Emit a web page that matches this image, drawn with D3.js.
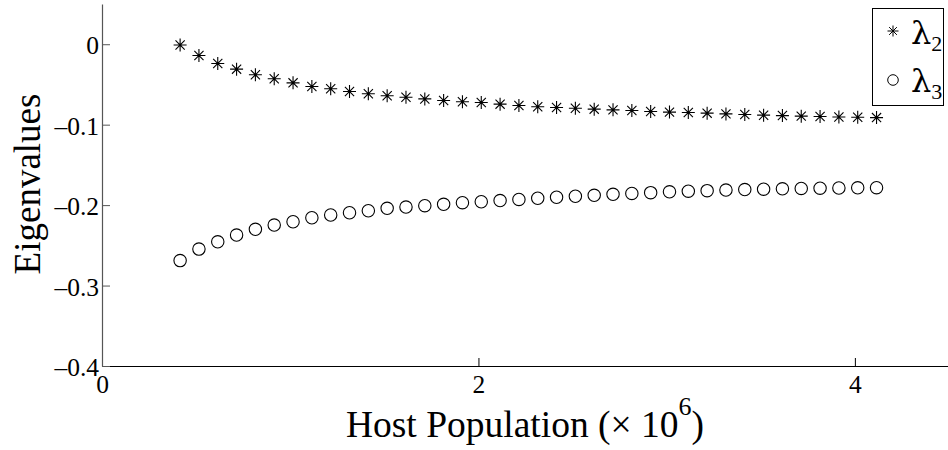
<!DOCTYPE html>
<html>
<head>
<meta charset="utf-8">
<script src="https://cdn.jsdelivr.net/npm/d3@7"></script>
<style>
  body { margin: 0; background: #fff; }
</style>
</head>
<body>
<svg width="948" height="450"></svg>
<script>
(function() {
    // host population (x 10^6)
    var population = [0.415, 0.515, 0.615, 0.715, 0.815, 0.915, 1.015, 1.115, 1.215, 1.315,
        1.415, 1.515, 1.615, 1.715, 1.815, 1.915, 2.015, 2.115, 2.215, 2.315,
        2.415, 2.515, 2.615, 2.715, 2.815, 2.915, 3.015, 3.115, 3.215, 3.315,
        3.415, 3.515, 3.615, 3.715, 3.815, 3.915, 4.015, 4.115];
    // eigenvalues
    var lambda2 = [-0.001, -0.014, -0.024, -0.031, -0.038, -0.043, -0.048, -0.0526, -0.0554, -0.0588,
        -0.0616, -0.064, -0.066, -0.068, -0.070, -0.0716, -0.0725, -0.0745, -0.0762, -0.0778,
        -0.0787, -0.0795, -0.0807, -0.0816, -0.0824, -0.0837, -0.0844, -0.0849, -0.0857, -0.0866,
        -0.0874, -0.0882, -0.0887, -0.0894, -0.0899, -0.0904, -0.0908, -0.0912];
    var lambda3 = [-0.2690, -0.2547, -0.2456, -0.2372, -0.2301, -0.2248, -0.2207, -0.2157, -0.2123, -0.2095,
        -0.2070, -0.2040, -0.2024, -0.2007, -0.1990, -0.1970, -0.1958, -0.1943, -0.1929, -0.1915,
        -0.1902, -0.1890, -0.1878, -0.1866, -0.1855, -0.1845, -0.1835, -0.1827, -0.1820, -0.1813,
        -0.1807, -0.1802, -0.1797, -0.1793, -0.1790, -0.1787, -0.1785, -0.1783];
    var xTicks = [0, 2, 4];
    var yTicks = [-0.4, -0.3, -0.2, -0.1, 0];
    var legendNames = ['2', '3'];

    var serif = '"Liberation Serif", "Times New Roman", "DejaVu Serif", serif';
    var svg = d3.select('svg');
    var left = 102, right = 949, top = 4, bottom = 366;

    var x = d3.scaleLinear().domain([0, 4.5]).range([left, right]);
    var y = d3.scaleLinear().domain([-0.4, 0.05]).range([bottom, top]);

    // axes (ticks point inward, no box)
    var xAxis = svg.append('g')
        .attr('transform', 'translate(0,' + bottom + ')')
        .call(d3.axisBottom(x).tickValues(xTicks).tickFormat(d3.format('')).tickSizeInner(-8).tickSizeOuter(0).tickPadding(9));
    xAxis.attr('font-family', null).attr('font-size', null);
    xAxis.selectAll('path, line').attr('stroke', '#000');
    xAxis.selectAll('text')
        .style('font-family', serif)
        .style('font-size', '25.5px');

    var yAxis = svg.append('g')
        .attr('transform', 'translate(' + left + ',0)')
        .call(d3.axisLeft(y).tickValues(yTicks).tickFormat(function(d) { return d === 0 ? '0' : '\u2013' + Math.abs(d); })
            .tickSizeInner(-8).tickSizeOuter(0).tickPadding(3));
    yAxis.attr('font-family', null).attr('font-size', null);
    yAxis.selectAll('path, line').attr('stroke', '#555');
    yAxis.selectAll('text')
        .attr('dy', '0.38em')
        .style('font-family', serif)
        .style('font-size', '25.5px');
    svg.selectAll('.domain').attr('stroke-width', 1.2);

    function starPath(r) {
      var d = r * Math.SQRT1_2;
      return 'M' + (-r) + ',0H' + r + 'M0,' + (-r) + 'V' + r +
        'M' + (-d) + ',' + (-d) + 'L' + d + ',' + d +
        'M' + (-d) + ',' + d + 'L' + d + ',' + (-d);
    }

    // lambda_2 stars
    svg.append('g').selectAll('path')
        .data(population)
        .join('path')
        .attr('transform', function(d, i) { return 'translate(' + x(d) + ',' + y(lambda2[i]) + ')'; })
        .attr('d', starPath(6.5))
        .attr('stroke', '#000')
        .attr('stroke-width', 1.1)
        .attr('fill', 'none');

    // lambda_3 circles
    svg.append('g').selectAll('circle')
        .data(population)
        .join('circle')
        .attr('cx', function(d) { return x(d); })
        .attr('cy', function(d, i) { return y(lambda3[i]); })
        .attr('r', 6.2)
        .attr('stroke', '#000')
        .attr('stroke-width', 1.1)
        .attr('fill', 'none');

    // axis titles
    var xt = svg.append('text')
        .attr('x', (left + 948) / 2)
        .attr('y', 437)
        .attr('text-anchor', 'middle')
        .style('font-family', serif)
        .style('font-size', '37.5px');
    xt.append('tspan').text('Host Population (\u00d7 10');
    xt.append('tspan').attr('dy', -22).style('font-size', '26px').text('6');
    xt.append('tspan').attr('dy', 22).text(')');

    svg.append('text')
        .attr('transform', 'translate(40,184) rotate(-90)')
        .attr('text-anchor', 'middle')
        .style('font-family', serif)
        .style('font-size', '37px')
        .text('Eigenvalues');

    // legend
    var legend = svg.append('g');
    legend.append('rect')
        .attr('x', 872.5).attr('y', 8.5)
        .attr('width', 71).attr('height', 97)
        .attr('fill', '#fff').attr('stroke', '#000').attr('stroke-width', 1);
    legend.append('path')
        .attr('transform', 'translate(893,31)')
        .attr('d', starPath(5.5))
        .attr('stroke', '#000').attr('stroke-width', 1).attr('fill', 'none');
    legend.append('circle')
        .attr('cx', 893).attr('cy', 80).attr('r', 5.3)
        .attr('stroke', '#000').attr('stroke-width', 1).attr('fill', 'none');
    legendNames.forEach(function(n, i) {
      var t = legend.append('text').attr('x', 911).attr('y', 44 + i * 48)
          .style('font-family', serif).style('font-size', '32px');
      t.append('tspan').style('font-family', '"DejaVu Serif", serif').text('\u03bb');
      t.append('tspan').attr('dy', 7).style('font-size', '22px').text(n);
    });
})();
</script>
</body>
</html>
